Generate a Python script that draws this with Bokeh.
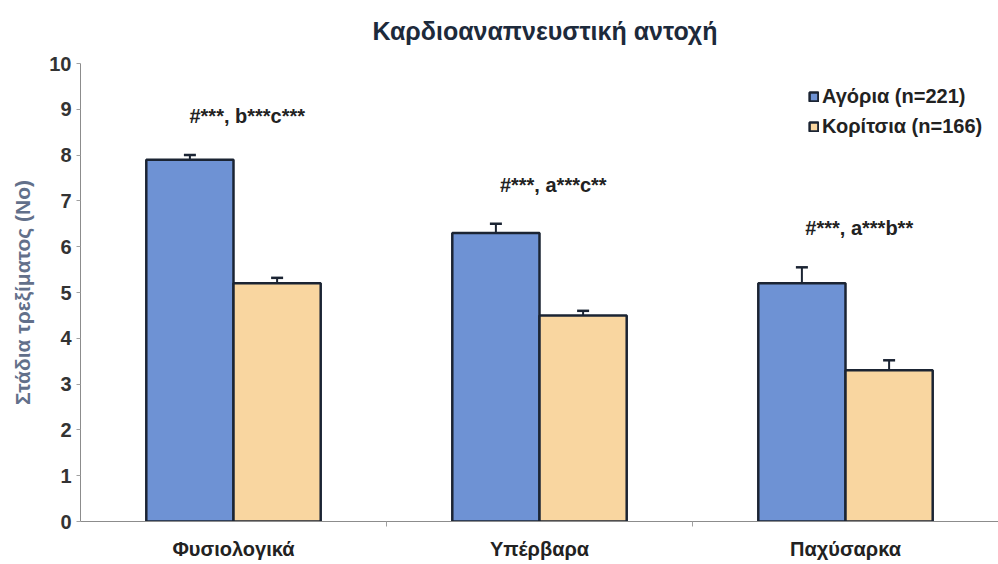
from bokeh.plotting import figure
from bokeh.models import (ColumnDataSource, Range1d, FixedTicker, Whisker,
                          Legend, LegendItem, TeeHead, Title)
from bokeh.transform import dodge
from bokeh.core.properties import value
from bokeh.embed import file_html
from bokeh.resources import INLINE

# Weight-status groups and mean running stages per sex
categories = ["Φυσιολογικά", "Υπέρβαρα", "Παχύσαρκα"]
boys = [7.9, 6.3, 5.2]
boys_err = [0.1, 0.2, 0.35]
girls = [5.2, 4.5, 3.3]
girls_err = [0.12, 0.1, 0.22]
significance = ["#***, b***c***", "#***, a***c**", "#***, a***b**"]
y_ticks = [0, 1, 2, 3, 4, 5, 6, 7, 8, 9, 10]

BLUE = "#6e92d4"
PEACH = "#f9d6a0"
EDGE = "#1b2433"
FONT = "Liberation Sans"

xs = list(range(len(categories)))
bar_w = 0.285

src = ColumnDataSource(dict(
    x=xs,
    boys=boys,
    boys_top=[b + e for b, e in zip(boys, boys_err)],
    girls=girls,
    girls_top=[g + e for g, e in zip(girls, girls_err)],
    note=significance,
    note_y=[max(b + e, g + f) + 0.85 for b, e, g, f in zip(boys, boys_err, girls, girls_err)],
))

p = figure(width=998, height=564, output_backend="svg", toolbar_location=None,
           x_range=Range1d(-0.5, 2.5), y_range=Range1d(0, 10),
           min_border_left=80, min_border_right=0, min_border_top=63,
           min_border_bottom=43)
p.frame_width = 918
p.frame_height = 458
p.outline_line_color = None
p.xgrid.visible = False
p.ygrid.visible = False
p.background_fill_color = "white"
p.border_fill_color = "white"

p.title = Title(text="Καρδιοαναπνευστική αντοχή", align="left", vertical_align="top",
                text_font=FONT, text_font_size="25px", text_font_style="bold",
                text_color="#1d2a3b", offset=292, standoff=33)

r_boys = p.vbar(x=dodge("x", -bar_w / 2, range=p.x_range), top="boys", width=bar_w,
                source=src, fill_color=BLUE, line_color=EDGE, line_width=2.5)
r_girls = p.vbar(x=dodge("x", bar_w / 2, range=p.x_range), top="girls", width=bar_w,
                 source=src, fill_color=PEACH, line_color=EDGE, line_width=2.5)

for col, top, off in (("boys", "boys_top", -bar_w / 2), ("girls", "girls_top", bar_w / 2)):
    w = Whisker(base=dodge("x", off, range=p.x_range), lower=col, upper=top,
                source=src, dimension="height", line_color=EDGE, line_width=2,
                upper_head=TeeHead(size=12, line_color=EDGE, line_width=2.5),
                lower_head=None)
    p.add_layout(w)

p.text(x=dodge("x", 0.045, range=p.x_range), y="note_y", text="note", source=src,
       text_align="center", text_baseline="middle", text_font=value(FONT),
       text_font_size="20px", text_font_style="bold", text_color="#222222")

# y axis
yax = p.yaxis[0]
yax.ticker = FixedTicker(ticks=y_ticks, minor_ticks=[])
yax.axis_label = "Στάδια τρεξίματος (No)"
yax.axis_label_text_font = FONT
yax.axis_label_text_font_size = "21px"
yax.axis_label_text_font_style = "bold"
yax.axis_label_text_color = "#62708a"
yax.axis_label_standoff = 12
yax.major_label_text_font = FONT
yax.major_label_text_font_size = "20px"
yax.major_label_text_font_style = "bold"
yax.major_label_text_color = "#333333"
yax.major_label_standoff = 5
yax.axis_line_color = "#8c8c8c"
yax.major_tick_line_color = "#a0a0a0"
yax.major_tick_out = 4
yax.major_tick_in = 0

# x axis: labels at group centres, tick marks between groups
xax = p.xaxis[0]
xax.ticker = FixedTicker(ticks=xs, minor_ticks=[x + 0.5 for x in xs[:-1]])
xax.major_label_overrides = {i: c for i, c in enumerate(categories)}
xax.major_label_text_font = FONT
xax.major_label_text_font_size = "20px"
xax.major_label_text_font_style = "bold"
xax.major_label_text_color = "#222222"
xax.major_label_standoff = 11
xax.major_tick_out = 0
xax.major_tick_in = 0
xax.minor_tick_out = 5
xax.minor_tick_in = 0
xax.minor_tick_line_color = "#a0a0a0"
xax.axis_line_color = "#8c8c8c"

legend = Legend(items=[LegendItem(label="Αγόρια (n=221)", renderers=[r_boys]),
                       LegendItem(label="Κορίτσια (n=166)", renderers=[r_girls])],
                location=(728, 383), orientation="vertical",
                glyph_width=11, glyph_height=11, label_height=22, spacing=7,
                label_standoff=3, padding=0, margin=0,
                border_line_color=None, background_fill_alpha=0,
                label_text_font=FONT, label_text_font_size="20px",
                label_text_font_style="bold", label_text_color="#222222")
p.add_layout(legend)

open("out.html", "w").write(file_html(p, INLINE))
